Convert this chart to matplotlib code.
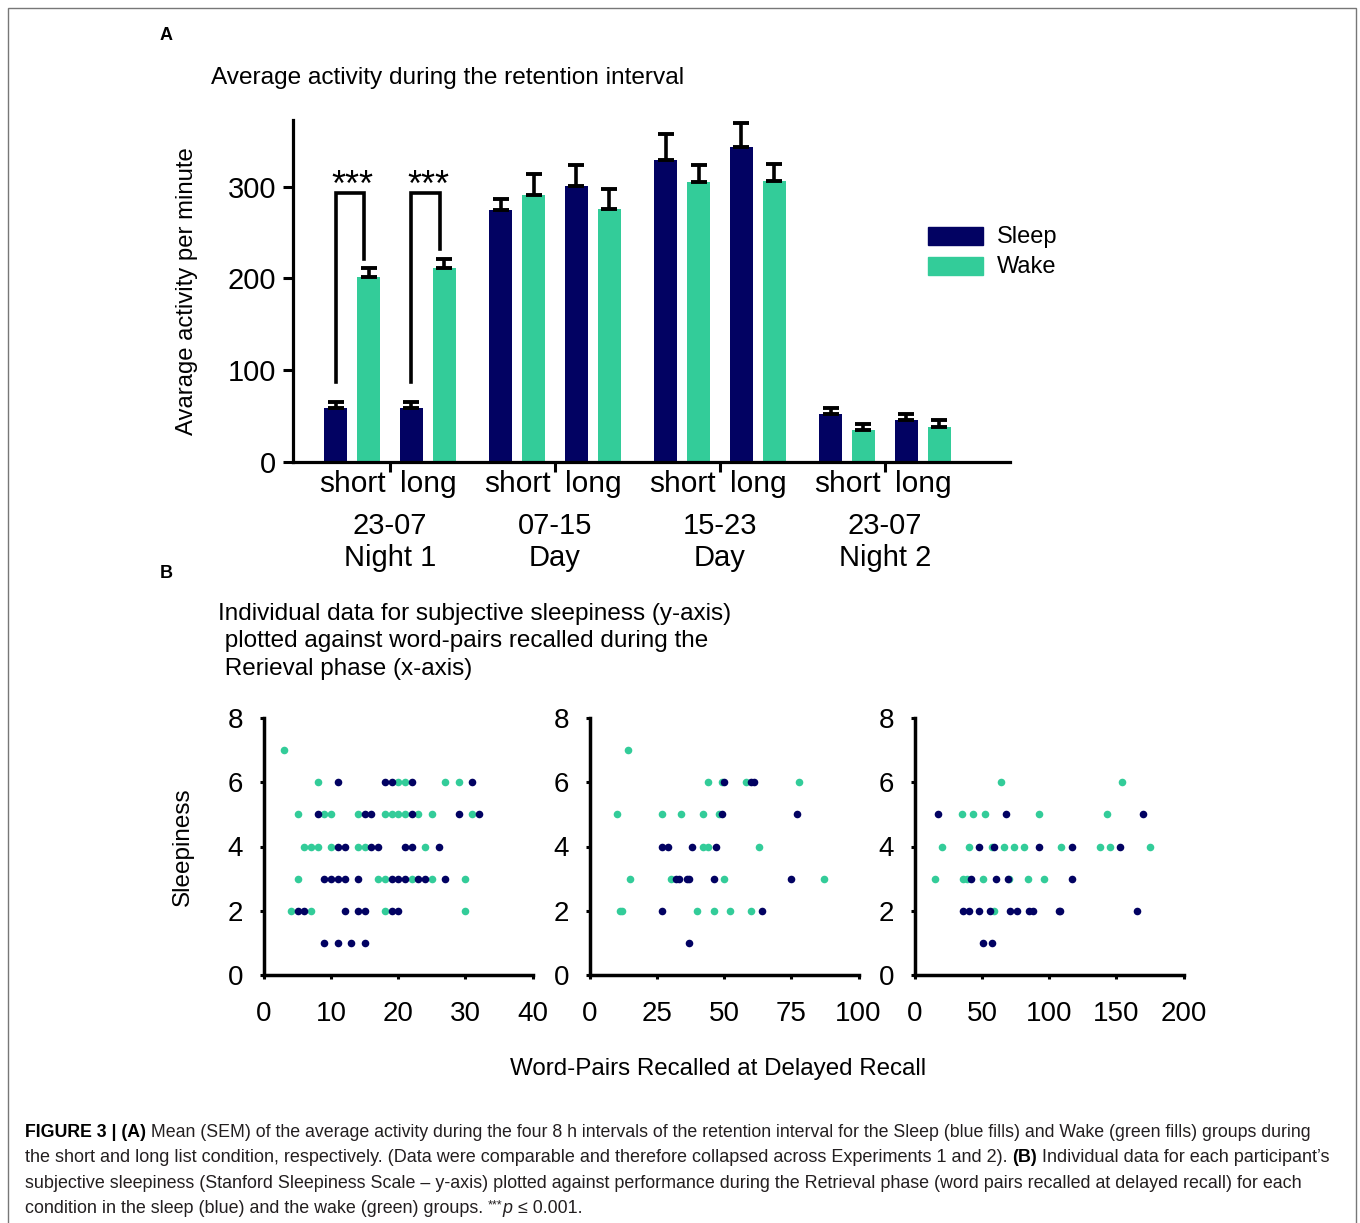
import matplotlib
matplotlib.use('Agg')
import matplotlib.pyplot as plt
from matplotlib.patches import Rectangle
import numpy as np

plt.rcParams['font.family'] = ['Liberation Sans', 'DejaVu Sans']

W, H = 1360, 1223
NAVY = '#020262'
GREEN = '#33CC99'

# ---- panel A data ----
group_labels = ['23-07\nNight 1', '07-15\nDay', '15-23\nDay', '23-07\nNight 2']
cond_labels = ['short', 'long']
sleep_mean = [59, 59, 274, 301, 329, 343, 51.5, 46]
sleep_sem = [6, 6, 13, 22, 28, 26, 7, 5.5]
wake_mean = [201, 211, 291, 276, 305, 306, 35, 38]
wake_sem = [10, 10.5, 23, 21, 19, 19, 6, 8]

# ---- panel B data (x = word pairs recalled, y = sleepiness) ----
p1_sleep_x = [11, 18, 19, 22, 31, 8, 15, 16, 22, 29, 32, 11, 12, 16, 17, 21, 22, 26,
              9, 10, 11, 12, 14, 19, 20, 21, 23, 24, 27, 5, 6, 12, 14, 15, 19, 20, 9, 11, 13, 15]
p1_sleep_y = [6]*5 + [5]*6 + [4]*7 + [3]*11 + [2]*7 + [1]*4
p1_wake_x = [3, 8, 20, 21, 27, 29, 5, 9, 10, 14, 18, 19, 20, 21, 23, 25, 31,
             6, 7, 8, 10, 14, 15, 24, 5, 17, 18, 22, 25, 30, 4, 7, 18, 30]
p1_wake_y = [7] + [6]*5 + [5]*11 + [4]*7 + [3]*6 + [2]*4

p2_sleep_x = [50, 60, 61, 49, 77, 27, 29, 38, 47, 32, 33, 36, 37, 46, 75, 27, 64, 37]
p2_sleep_y = [6]*3 + [5]*2 + [4]*4 + [3]*6 + [2]*2 + [1]
p2_wake_x = [14, 44, 49, 58, 78, 10, 27, 34, 42, 48, 42, 44, 63, 15, 30, 50, 87,
             11, 12, 40, 46, 52, 60]
p2_wake_y = [7] + [6]*4 + [5]*5 + [4]*3 + [3]*4 + [2]*6

p3_sleep_x = [17, 68, 170, 48, 59, 92, 117, 153, 42, 60, 69, 117,
              36, 40, 48, 56, 71, 76, 85, 88, 107, 108, 165, 51, 57]
p3_sleep_y = [5]*3 + [4]*5 + [3]*4 + [2]*11 + [1]*2
p3_wake_x = [64, 154, 35, 43, 52, 92, 143, 20, 40, 57, 66, 74, 81, 109, 138, 145, 175,
             15, 36, 39, 51, 70, 84, 96, 59]
p3_wake_y = [6]*2 + [5]*5 + [4]*10 + [3]*7 + [2]

panels = [
    (p1_sleep_x, p1_sleep_y, p1_wake_x, p1_wake_y, 40, [0, 10, 20, 30, 40]),
    (p2_sleep_x, p2_sleep_y, p2_wake_x, p2_wake_y, 100, [0, 25, 50, 75, 100]),
    (p3_sleep_x, p3_sleep_y, p3_wake_x, p3_wake_y, 200, [0, 50, 100, 150, 200]),
]


def px_axes(left, top, right, bottom):
    return fig.add_axes([left / W, 1 - bottom / H, (right - left) / W, (bottom - top) / H])


def ftext(x, y, s, **kw):
    return fig.text(x / W, 1 - y / H, s, **kw)


fig = plt.figure(figsize=(W / 100, H / 100), dpi=100)

# outer frame
fig.patches.append(Rectangle((8 / W, -0.01), (1356 - 8) / W, 1 - 8 / H + 0.01,
                             transform=fig.transFigure, fill=False, ec='#777777', lw=1))

ftext(160, 35, 'A', fontsize=13, fontweight='bold', va='center')
ftext(160, 573, 'B', fontsize=13, fontweight='bold', va='center')

# ---------------- panel A ----------------
ax = px_axes(293, 120, 1010, 461.7)
centers = np.arange(4) * 5.0
pair_x = np.array([[c - 1.15, c + 1.15] for c in centers]).ravel()
sx = pair_x - 0.5
wx = pair_x + 0.5
n = len(pair_x)
ax.bar(sx, sleep_mean, width=0.72, color=NAVY, zorder=2)
ax.bar(wx, wake_mean, width=0.72, color=GREEN, zorder=2)
for xs, m, e in [(sx, sleep_mean, sleep_sem), (wx, wake_mean, wake_sem)]:
    ax.errorbar(xs, m, yerr=[np.zeros(n), e], fmt='none', ecolor='black',
                elinewidth=2.6, capsize=5.5, capthick=2.8, zorder=3)

# significance brackets for night 1
for i in range(2):
    lx = sx[i]
    rx = wx[i] - 0.14
    top = 293
    ax.plot([lx, lx, rx, rx],
            [sleep_mean[i] + sleep_sem[i] + 22, top, top, wake_mean[i] + wake_sem[i] + 10],
            color='black', lw=2.6, solid_joinstyle='miter', zorder=3)
    ax.text(pair_x[i], 290, '***', ha='center', va='baseline', fontsize=26)

ax.set_xlim(-2.94, 18.79)
ax.set_ylim(0, 372.6)
ax.set_yticks([0, 100, 200, 300])
ax.set_xticks(centers)
ax.set_xticklabels([])
ax.tick_params(axis='y', direction='out', length=7, width=2.2, labelsize=21, pad=5)
ax.tick_params(axis='x', direction='out', length=7, width=2.2)
for s in ['top', 'right']:
    ax.spines[s].set_visible(False)
for s in ['left', 'bottom']:
    ax.spines[s].set_linewidth(2.3)

for x, lab in zip(pair_x, cond_labels * 4):
    ax.text(x, -0.065, lab, transform=ax.get_xaxis_transform(), ha='center', va='center',
            fontsize=21.5)
for c, lab in zip(centers, group_labels):
    ax.text(c, -0.235, lab, transform=ax.get_xaxis_transform(), ha='center', va='center',
            fontsize=21, linespacing=1.2)

ftext(211, 78, 'Average activity during the retention interval', fontsize=17.6, va='center')
ftext(187, 291, 'Avarage activity per minute', rotation=90, ha='center', va='center',
      fontsize=17.2)

# legend
for y0, col, lab in [(227, NAVY, 'Sleep'), (257, GREEN, 'Wake')]:
    fig.patches.append(Rectangle((928 / W, 1 - (y0 + 18) / H), 55 / W, 18 / H,
                                 transform=fig.transFigure, color=col))
    ftext(997, y0 + 10, lab, fontsize=17, va='center')

# ---------------- panel B ----------------
for k, line in enumerate(['Individual data for subjective sleepiness (y-axis)',
                          ' plotted against word-pairs recalled during the',
                          ' Rerieval phase (x-axis)']):
    ftext(218, 614 + k * 27.5, line, fontsize=17.5, va='center')

lefts = [264, 590, 915]
for left, (sxs, sys_, wxs, wys, xmax, xt) in zip(lefts, panels):
    a = px_axes(left, 718, left + 268.5, 975)
    a.scatter(wxs, wys, s=30, color=GREEN, linewidths=0, zorder=3, clip_on=False)
    a.scatter(sxs, sys_, s=30, color=NAVY, linewidths=0, zorder=3, clip_on=False)
    a.set_xlim(0, xmax)
    a.set_ylim(0, 8)
    a.set_xticks(xt)
    a.set_yticks([0, 2, 4, 6, 8])
    a.tick_params(axis='x', direction='out', length=3, width=2.2, labelsize=20, pad=16)
    a.tick_params(axis='y', direction='out', length=3, width=2.2, labelsize=20, pad=12)
    for s in ['top', 'right']:
        a.spines[s].set_visible(False)
    for s in ['left', 'bottom']:
        a.spines[s].set_linewidth(2.5)

ftext(183, 847, 'Sleepiness', rotation=90, ha='center', va='center', fontsize=17.5)
ftext(718, 1069, 'Word-Pairs Recalled at Delayed Recall', ha='center', va='center',
      fontsize=17.4)

# ---------------- caption ----------------
renderer = fig.canvas.get_renderer()
CAP = ['Liberation Sans Narrow', 'Liberation Sans', 'DejaVu Sans']


def draw_pieces(x0, y, pieces, size, color='#231f20'):
    x = x0
    made = []
    for txt, style in pieces:
        kw = dict(fontsize=size, va='baseline', family=CAP, color=color)
        yy = y
        if style == 'bold':
            kw['fontweight'] = 'bold'
            kw['color'] = 'black'
        elif style == 'italic':
            kw['fontstyle'] = 'italic'
        elif style == 'sup':
            kw['fontsize'] = size * 0.7
            yy = y - 5
        t = ftext(x, yy, txt, **kw)
        x += t.get_window_extent(renderer).width
        made.append(t)
    return made, x - x0


caption = [
    ([('FIGURE 3 | (A)', 'bold'),
      (' Mean (SEM) of the average activity during the four 8 h intervals of the retention interval '
       'for the Sleep (blue fills) and Wake (green fills) groups during', 'normal')], 1137, 1293),
    ([('the short and long list condition, respectively. (Data were comparable and therefore '
       'collapsed across Experiments 1 and 2). ', 'normal'), ('(B)', 'bold'),
      (' Individual data for each participant\u2019s', 'normal')], 1162, 1306),
    ([('subjective sleepiness (Stanford Sleepiness Scale \u2013 y-axis) plotted against performance '
       'during the Retrieval phase (word pairs recalled at delayed recall) for each', 'normal')], 1188, 1275),
    ([('condition in the sleep (blue) and the wake (green) groups. ', 'normal'), ('***', 'sup'),
      ('p', 'italic'), (' \u2264 0.001.', 'normal')], 1213, None),
]
base = 13.2
sizes = []
for pieces, y, target in caption:
    made, width = draw_pieces(25, y, pieces, base)
    if target is None:
        size = np.mean(sizes)
    else:
        size = base * target / width
        sizes.append(size)
    for t in made:
        t.remove()
    draw_pieces(25, y, pieces, size)

fig.savefig('out.png', dpi=100)
